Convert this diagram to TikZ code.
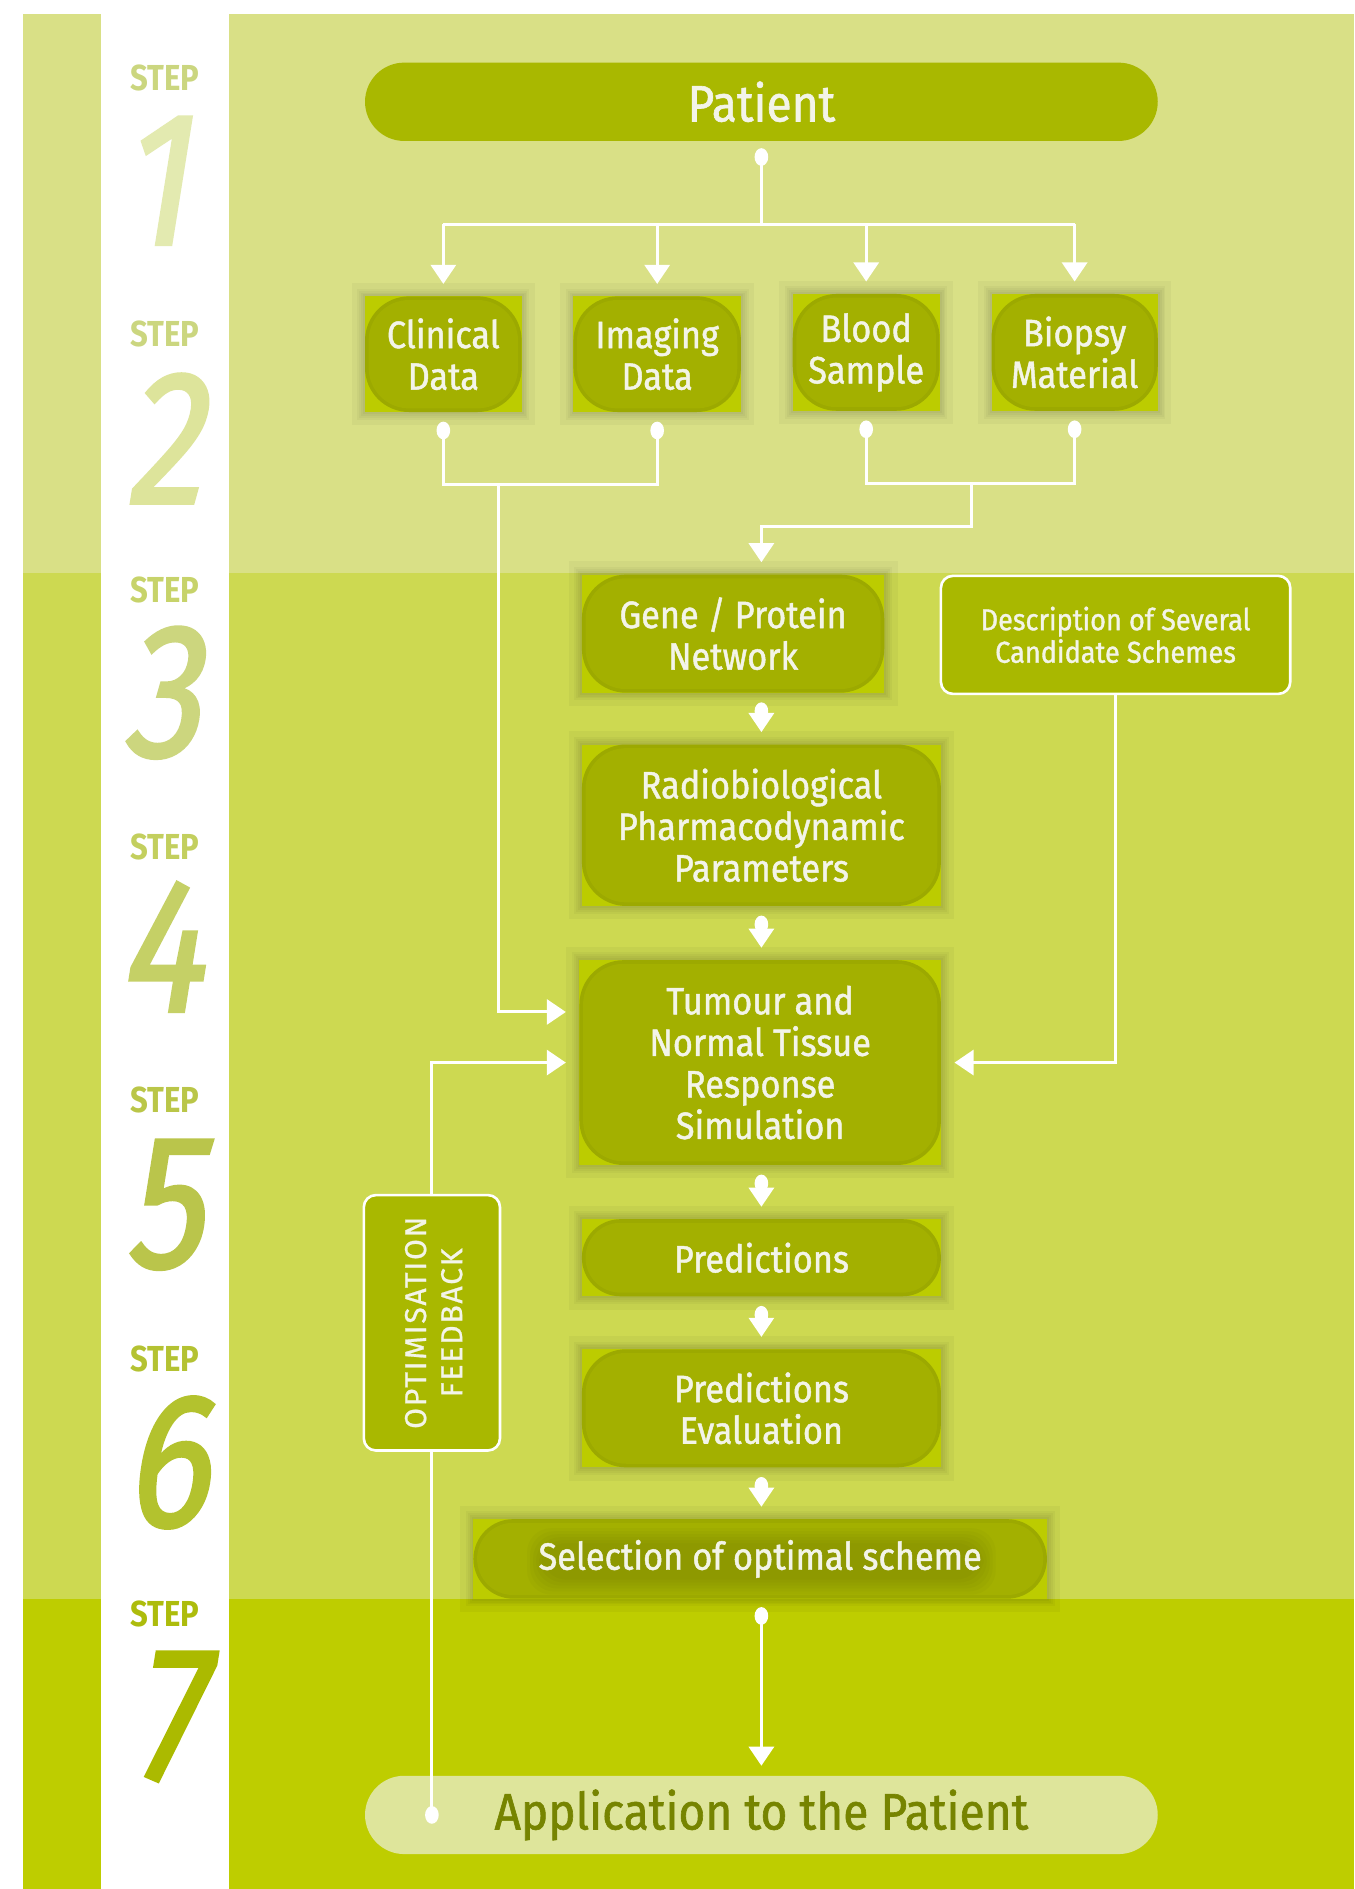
\documentclass[tikz,border=0pt]{standalone}
\usepackage{fontspec}
\setmainfont{Fira Sans}
\newfontfamily\boxfont{Fira Sans}[FakeStretch=0.9,FakeBold=1.2]
\newfontfamily\stepfont{Fira Sans}[FakeStretch=0.86]
\newfontfamily\digitfont{Fira Sans}[FakeStretch=0.82,FakeSlant=0.16,FakeBold=1.6]
\newfontfamily\fbfont{Fira Sans}[LetterSpace=6,FakeBold=0.8]
\usetikzlibrary{arrows.meta,calc}
\definecolor{bandA}{HTML}{D9E086}
\definecolor{bandB}{HTML}{CDD951}
\definecolor{bandC}{HTML}{BECD00}
\definecolor{pillc}{HTML}{A9B800}
\definecolor{cornc}{HTML}{BCCC00}
\definecolor{edgec}{HTML}{9CA900}
\definecolor{darkc}{HTML}{A3B000}
\definecolor{txtc}{HTML}{F3F4E8}
\definecolor{appc}{HTML}{DEE59B}
\definecolor{apptxt}{HTML}{768400}
\definecolor{stA}{HTML}{CBD67F}
\definecolor{dgA}{HTML}{E3EAB0}
\definecolor{dgB}{HTML}{DDE49B}
\definecolor{stC}{HTML}{C7D36A}
\definecolor{dgC}{HTML}{CCD67E}
\definecolor{stD}{HTML}{C3CF5E}
\definecolor{dgD}{HTML}{C5D066}
\definecolor{stE}{HTML}{BAC648}
\definecolor{dgE}{HTML}{BAC54B}
\definecolor{stF}{HTML}{B4C232}
\definecolor{dgF}{HTML}{B3C22E}
\definecolor{stG}{HTML}{ADBC0C}
\definecolor{dgG}{HTML}{ABBA00}

% name, x1, y1, x2, y2 (inner square), text
\newcommand{\gbox}[6]{%
  \pgfmathsetmacro\rra{min(22,(#5-#3)*0.3)}%
  \pgfmathsetmacro\rrb{\rra-1.8}%
  \fill[black,opacity=0.035] (#2-11,#3-11) rectangle (#4+11,#5+11);
  \foreach \s in {1,2,3,4} {\fill[black,opacity=0.03] (#2-\s*1.6,#3-\s*1.6) rectangle (#4+\s*1.6,#5+\s*1.6);}
  \fill[cornc] (#2,#3) rectangle (#4,#5);
  \fill[edgec, rounded corners=\rra pt] (#2,#3) rectangle (#4,#5);
  \fill[darkc, rounded corners=\rrb pt] (#2+3,#3+3) rectangle (#4-3,#5-3);
  \node[boxtxt, minimum width={(#4-#2+22)*0.6pt}, minimum height={(#5-#3+22)*0.6pt}] (#1) at ({(#2+#4)/2},{(#3+#5)/2}) {#6};
}
\newcommand{\wdot}[1]{\fill[white] (#1) ellipse [x radius=3.4pt, y radius=4.4pt];}

\begin{document}
\begin{tikzpicture}[x=0.6pt,y=-0.6pt,
  conn/.style={draw=white,line width=1.5pt},
  arr/.style={conn,-{Triangle[width=12.5pt,length=9.5pt]}},
  boxtxt/.style={inner sep=0pt,align=center,text=txtc,font=\boxfont\fontsize{19}{20.7}\selectfont},
  pill/.style={inner sep=0pt,fill=pillc,rounded corners=19.5pt,text=txtc,font=\boxfont\fontsize{25.5}{28}\selectfont},
  apppill/.style={inner sep=0pt,fill=appc,rounded corners=19.5pt,text=apptxt,font=\boxfont\fontsize{25.5}{28}\selectfont},
  outbox/.style={inner sep=0pt,fill=pillc,draw=white,line width=1.3pt,rounded corners=6pt,align=center,text=txtc,font=\boxfont\fontsize{15}{16.2}\selectfont},
  fbtxt/.style={inner sep=0pt,text=txtc,font=\fbfont\fontsize{15}{18}\selectfont},
  steplbl/.style={inner sep=0pt,font=\stepfont\bfseries\fontsize{18}{20}\selectfont},
  digit/.style={inner sep=0pt,font=\digitfont\fontsize{95}{100}\selectfont}
]
\useasboundingbox (0,0) rectangle (1124,1568);
\fill[white] (0,0) rectangle (1124,1568);
% bands
\foreach \xa/\xb in {19/84,190/1124} {
  \fill[bandA] (\xa,12) rectangle (\xb,476);
  \fill[bandB] (\xa,476) rectangle (\xb,1327);
  \fill[bandC] (\xa,1327) rectangle (\xb,1568);
}
% step labels
\node[steplbl,text=stA] (s1) at (137,65) {STEP};
\node[digit,text=dgA] (d1) at (128,150) {1};
\node[steplbl,text=stA] (s2) at (137,277) {STEP};
\node[digit,text=dgB] (d2) at (136,364) {2};
\node[steplbl,text=stC] (s3) at (137,490) {STEP};
\node[digit,text=dgC] (d3) at (134,575) {3};
\node[steplbl,text=stD] (s4) at (137,703) {STEP};
\node[digit,text=dgD] (d4) at (133,786) {4};
\node[steplbl,text=stE] (s5) at (137,913) {STEP};
\node[digit,text=dgE] (d5) at (136,1000) {5};
\node[steplbl,text=stF] (s6) at (137,1128) {STEP};
\node[digit,text=dgF] (d6) at (138,1214) {6};
\node[steplbl,text=stG] (s7) at (137,1340) {STEP};
\node[digit,text=dgG] (d7) at (139,1425) {7};

% patient
\node[pill, minimum width={658*0.6pt}, minimum height={65*0.6pt}] (pat) at (632,84.5) {Patient};

% boxes
\gbox{clin}{303}{246}{433}{342}{Clinical\\Data}
\gbox{imag}{476}{246}{615}{342}{Imaging\\Data}
\gbox{blood}{658}{244}{780}{341}{Blood\\Sample}
\gbox{biop}{823}{244}{961}{341}{Biopsy\\Material}
\gbox{gene}{483}{477}{734}{575}{Gene / Protein\\Network}
\gbox{radio}{483}{618}{781}{752}{Radiobiological\\Pharmacodynamic\\Parameters}
\gbox{tum}{481}{797}{781}{967}{Tumour and\\Normal Tissue\\Response\\Simulation}
\gbox{pred}{483}{1012}{781}{1076}{Predictions}
\gbox{eval}{483}{1120}{781}{1218}{Predictions\\Evaluation}
% selection box with soft dark halo behind its text
\fill[black,opacity=0.035] (382,1250) rectangle (880,1338);
\foreach \s in {1,2,3,4} {\fill[black,opacity=0.03] (393-\s*1.6,1261-\s*1.6) rectangle (869+\s*1.6,1327+\s*1.6);}
\fill[cornc] (393,1261) rectangle (869,1327);
\fill[edgec, rounded corners=19.8pt] (393,1261) rectangle (869,1327);
\fill[darkc, rounded corners=18pt] (396,1264) rectangle (866,1324);
\foreach \s in {0,1,2,3,4,5} {\fill[black!50!darkc,opacity=0.045,rounded corners=12pt] (450-\s*2.5,1281-\s*2.5) rectangle (814+\s*2.5,1311+\s*2.5);}
\node[boxtxt, minimum width={498*0.6pt}, minimum height={88*0.6pt}] (sel) at (631,1294) {Selection of optimal scheme};

% side boxes
\node[outbox, minimum width={290*0.6pt}, minimum height={98*0.6pt}] (desc) at (926,527) {Description of Several\\Candidate Schemes};
\node[outbox, minimum width={113*0.6pt}, minimum height={212*0.6pt}] (fb) at (358.5,1098) {};
\node[fbtxt, rotate=90] (fbt1) at (345,1098) {OPTIMISATION};
\node[fbtxt, rotate=90] (fbt2) at (375,1098) {FEEDBACK};

% application
\node[apppill, minimum width={658*0.6pt}, minimum height={65*0.6pt}] (app) at (632,1506.5) {Application to the Patient};

% connectors
\coordinate (pd) at ($(pat.south)+(0,13)$);
\coordinate (bus) at ($(pd)+(0,56)$);
\draw[conn] (pd) -- (bus);
\draw[conn] (clin.north |- bus) -- (biop.north |- bus);
\foreach \n in {clin,imag,blood,biop} {
  \draw[arr] (\n.north |- bus) -- ($(\n.north)+(0,1)$);
  \coordinate (\n-d) at ($(\n.south)+(0,4)$);
}
\draw[conn] (clin-d) -- ++(0,45) -| (imag-d);
\draw[conn] (blood-d) -- ++(0,45) -| (biop-d);
\coordinate (lm) at ($(clin-d)+(46,45)$);
\coordinate (rm) at ($(blood-d)+(87,45)$);
\draw[arr] (lm) |- ($(tum.west)+(0,-42)$);
\draw[arr] (rm) -- ++(0,36) -| ($(pat.south |- gene.north)+(0,1)$);
\foreach \a/\b in {gene/radio,radio/tum,tum/pred,pred/eval,eval/sel} {
  \coordinate (\a-d) at ($(pat.south |- \a.south)+(0,4)$);
  \draw[arr] (\a-d) -- ($(pat.south |- \b.north)+(0,1)$);
}
\coordinate (sel-d) at ($(pat.south |- sel.south)+(0,3)$);
\draw[arr] (sel-d) -- ($(pat.south |- app.north)+(0,-8)$);
\draw[arr] (desc.south) |- (tum.east);
\coordinate (fbd) at (fb.south |- app.center);
\draw[conn] (fbd) -- (fb.south);
\draw[arr] (fb.north) |- (tum.west);
% dots
\wdot{pd}
\foreach \n in {clin,imag,blood,biop,gene,radio,tum,pred,eval,sel} {\wdot{\n-d}}
\wdot{fbd}
\end{tikzpicture}
\end{document}
